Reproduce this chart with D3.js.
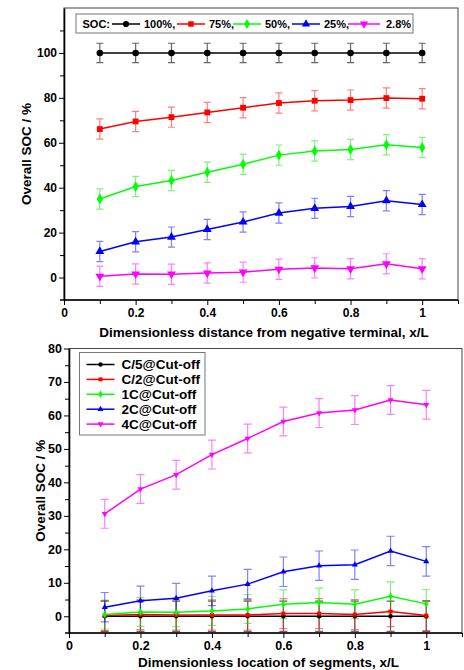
<!DOCTYPE html>
<html>
<head>
<meta charset="utf-8">
<script src="https://cdn.jsdelivr.net/npm/d3@7"></script>
<style>
  body { margin: 0; background: #fff; }
  text { font-family: Arial, 'Liberation Sans', sans-serif; font-weight: bold; }
</style>
</head>
<body>
<svg id="chart" width="464" height="670"></svg>
<script>
// segment positions, x/L
var xs = [0.1, 0.2, 0.3, 0.4, 0.5, 0.6, 0.7, 0.8, 0.9, 1.0];

// top panel: SOC levels
var topNames = ['100%', '75%', '50%', '25%', '2.8%'];
var soc100 = [100, 100, 100, 100, 100, 100, 100, 100, 100, 100];
var soc75  = [66.1, 69.5, 71.4, 73.5, 75.6, 77.7, 78.7, 79.0, 79.9, 79.6];
var soc50  = [35.0, 40.5, 43.2, 46.9, 50.4, 54.5, 56.3, 57.0, 59.1, 57.9];
var soc25  = [11.6, 15.9, 18.0, 21.4, 24.7, 28.7, 30.8, 31.6, 34.2, 32.5];
var soc3   = [0.6, 1.6, 1.5, 2.0, 2.4, 3.7, 4.3, 3.9, 6.1, 3.9];
var topErr = [4.3, 4.5, 4.5, 4.5, 4.5];

// bottom panel: C-rates at cut-off
var botNames = ['C/5@Cut-off', 'C/2@Cut-off', '1C@Cut-off', '2C@Cut-off', '4C@Cut-off'];
var cut5  = [0, 0, 0, 0, 0, 0, 0, 0, 0, 0];
var cut2  = [0.2, 0.5, 0.4, 0.4, 0.4, 0.8, 0.8, 0.5, 1.4, 0.2];
var cut1  = [0.5, 1.3, 1.2, 1.6, 2.2, 3.6, 4.1, 3.6, 6.0, 3.7];
var cut2C = [2.7, 4.6, 5.4, 7.6, 9.6, 13.3, 15.1, 15.4, 19.5, 16.4];
var cut4C = [30.6, 38.0, 42.3, 48.3, 53.1, 58.2, 60.7, 61.6, 64.6, 63.2];
var botErr = [4.5, 4.5, 4.3, 4.4, 4.3];

var colors = ['#000000', '#ff0000', '#00ff00', '#0000ff', '#ff00ff'];
var errColors = ['#666666', 'rgba(255,0,0,0.5)', 'rgba(0,230,0,0.5)', 'rgba(0,0,255,0.5)', 'rgba(255,0,255,0.5)'];
var shapes = [d3.symbolCircle, d3.symbolSquare, d3.symbolDiamond, d3.symbolTriangle, d3.symbolTriangle];
var flip = [false, false, false, false, true];

var xMajor = [0, 0.2, 0.4, 0.6, 0.8, 1];
var xMinor = [0.1, 0.3, 0.5, 0.7, 0.9, 1.1];

var svg = d3.select('#chart');

function marker(g, i, x, y, size) {
  g.append('path')
    .attr('d', d3.symbol().type(shapes[i]).size(size))
    .attr('transform', 'translate(' + x + ',' + y + ')' + (flip[i] ? ' rotate(180)' : ''))
    .attr('fill', colors[i]);
}

function panel(o) {
  var x = d3.scaleLinear().domain([0, 1.1]).range([o.left, o.right]);
  var y = d3.scaleLinear().domain(o.yDomain).range([o.bottom, o.top]);
  var g = svg.append('g');

  g.append('rect')
    .attr('x', o.left).attr('y', o.top)
    .attr('width', o.right - o.left).attr('height', o.bottom - o.top)
    .attr('fill', 'none').attr('stroke', '#444').attr('stroke-width', 1);

  // minor ticks
  g.append('g').attr('transform', 'translate(0,' + o.bottom + ')')
    .call(d3.axisBottom(x).tickValues(xMinor).tickSize(4).tickFormat('').tickSizeOuter(0))
    .call(a => a.select('.domain').remove());
  g.append('g').attr('transform', 'translate(' + o.left + ',0)')
    .call(d3.axisLeft(y).tickValues(o.yMinor).tickSize(4).tickFormat('').tickSizeOuter(0))
    .call(a => a.select('.domain').remove());

  var xa = g.append('g').attr('transform', 'translate(0,' + o.bottom + ')')
    .call(d3.axisBottom(x).tickValues(xMajor).tickSize(5).tickSizeOuter(0).tickFormat(d => String(d)));
  var ya = g.append('g').attr('transform', 'translate(' + o.left + ',0)')
    .call(d3.axisLeft(y).tickValues(o.yMajor).tickSize(5).tickSizeOuter(0));
  [xa, ya].forEach(a => {
    a.selectAll('text').attr('font-size', o.tickFont).attr('fill', '#000');
    a.select('.domain').attr('stroke-width', 1.6);
  });
  xa.select('.domain').attr('d', 'M' + (o.left - 4) + ',0H' + o.right);
  ya.selectAll('text').attr('x', -7);
  xa.selectAll('text').attr('y', 8);

  g.append('text')
    .attr('x', (o.left + o.right) / 2 + o.xTitleShift).attr('y', o.xTitleY)
    .attr('text-anchor', 'middle').attr('font-size', 13.5)
    .text(o.xTitle);
  g.append('text')
    .attr('transform', 'translate(' + o.yTitleX + ',' + (o.top + o.bottom) / 2 + ') rotate(-90)')
    .attr('text-anchor', 'middle').attr('font-size', 13.5)
    .text('Overall SOC / %');

  var line = d3.line().x((d, k) => x(xs[k])).y(d => y(d));
  o.series.forEach((vals, i) => {
    var s = g.append('g');
    var e = o.err[i];
    vals.forEach((v, k) => {
      var cx = x(xs[k]);
      s.append('path')
        .attr('d', 'M' + cx + ',' + y(v - e) + 'V' + y(v + e) +
          'M' + (cx - o.cap) + ',' + y(v - e) + 'H' + (cx + o.cap) +
          'M' + (cx - o.cap) + ',' + y(v + e) + 'H' + (cx + o.cap))
        .attr('stroke', errColors[i]).attr('stroke-width', 1.2).attr('fill', 'none');
    });
  });
  o.series.forEach((vals, i) => {
    g.append('path').datum(vals)
      .attr('d', line).attr('fill', 'none')
      .attr('stroke', colors[i]).attr('stroke-width', 1.5);
    vals.forEach((v, k) => marker(g, i, x(xs[k]), y(v), o.markSize));
  });
  return g;
}

// top panel
var gTop = panel({
  left: 64, right: 458, top: 8, bottom: 300,
  yDomain: [-10, 120], yMajor: [0, 20, 40, 60, 80, 100], yMinor: [10, 30, 50, 70, 90, 110],
  series: [soc100, soc75, soc50, soc25, soc3], err: topErr,
  cap: 3.5, markSize: 34, tickFont: 12,
  xTitle: 'Dimensionless distance from negative terminal, x/L', xTitleY: 337, xTitleShift: 3,
  yTitleX: 31
});

// top legend, one row
var lineStarts = [112, 177, 233, 292, 348];
var lg = gTop.append('g');
lg.append('rect').attr('x', 76).attr('y', 14).attr('width', 337).attr('height', 19)
  .attr('fill', '#fff').attr('stroke', '#777').attr('stroke-width', 1);
var ly = 24;
lg.append('text').attr('x', 82.5).attr('y', ly + 4).attr('font-size', 11).text('SOC:');
topNames.forEach((n, i) => {
  var lx = lineStarts[i];
  var w = i === 4 ? 32 : 28;
  lg.append('line').attr('x1', lx).attr('x2', lx + w).attr('y1', ly).attr('y2', ly)
    .attr('stroke', colors[i]).attr('stroke-width', 1.5);
  marker(lg, i, lx + w / 2, ly, 30);
  lg.append('text').attr('x', lx + w + (i === 4 ? 6 : 4)).attr('y', ly + 4).attr('font-size', 11)
    .text(i < topNames.length - 1 ? n + ',' : n);
});

// bottom panel
var gBot = panel({
  left: 69, right: 462, top: 348.5, bottom: 633,
  yDomain: [-5, 80], yMajor: [0, 10, 20, 30, 40, 50, 60, 70, 80], yMinor: [5, 15, 25, 35, 45, 55, 65, 75],
  series: [cut5, cut2, cut1, cut2C, cut4C], err: botErr,
  cap: 4, markSize: 16, tickFont: 12.5,
  xTitle: 'Dimensionless location of segments, x/L', xTitleY: 667, xTitleShift: 3,
  yTitleX: 45
});

var bl = gBot.append('g');
bl.append('rect').attr('x', 79.5).attr('y', 352.5).attr('width', 125.5).attr('height', 82.5)
  .attr('fill', '#fff').attr('stroke', '#777').attr('stroke-width', 1);
botNames.forEach((n, i) => {
  var yy = 364.5 + i * 14.9;
  bl.append('line').attr('x1', 86.5).attr('x2', 114.5).attr('y1', yy).attr('y2', yy)
    .attr('stroke', colors[i]).attr('stroke-width', 1.5);
  marker(bl, i, 100.5, yy, 16);
  bl.append('text').attr('x', 121.5).attr('y', yy + 4.5).attr('font-size', 13.5).text(n);
});
</script>
</body>
</html>
